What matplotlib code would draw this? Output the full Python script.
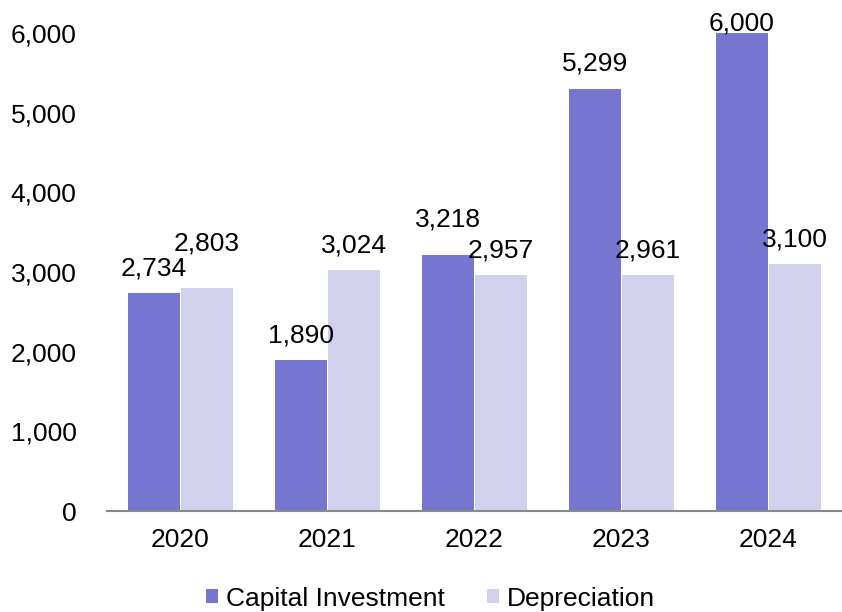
import numpy as np
import matplotlib.pyplot as plt

# data
years = ['2020', '2021', '2022', '2023', '2024']
capital = [2734, 1890, 3218, 5299, 6000]
depreciation = [2803, 3024, 2957, 2961, 3100]

# extra shift (points) for labels that would collide or run off the top
capital_lift = [0, 0, 7, 0, -11]
depr_lift = [14, 0, 0, 0, 0]

plt.rcParams['font.family'] = ['Liberation Sans', 'DejaVu Sans']

fig = plt.figure(figsize=(8.42, 6.12), dpi=100)
ax = fig.add_axes([0.127, 0.165, 0.873, 0.781])

x = np.arange(len(years))
w = 0.35
b1 = ax.bar(x - w / 2 - 0.005, capital, w, color='#7676D0', label='Capital Investment')
b2 = ax.bar(x + w / 2 + 0.005, depreciation, w, color='#D1D1EE', label='Depreciation')

for bars, vals, lifts in [(b1, capital, capital_lift), (b2, depreciation, depr_lift)]:
    for r, v, l in zip(bars, vals, lifts):
        ax.annotate(f'{v:,}', (r.get_x() + r.get_width() / 2, v),
                    xytext=(0, 13 + l), textcoords='offset points',
                    ha='center', va='baseline', fontsize=19, annotation_clip=False)

ax.set_xlim(-0.5, 4.5)
ax.set_ylim(0, 6000)
ax.set_yticks(range(0, 6001, 1000))
ax.set_yticklabels([f'{t:,}' for t in range(0, 6001, 1000)])
ax.set_xticks(x)
ax.set_xticklabels(years)
ax.tick_params(axis='both', length=0, labelsize=19)
ax.tick_params(axis='y', pad=22)
ax.tick_params(axis='x', pad=12)
for s in ['top', 'right', 'left']:
    ax.spines[s].set_visible(False)
ax.spines['bottom'].set_color('#898989')
ax.spines['bottom'].set_linewidth(1.5)

fig.legend(*ax.get_legend_handles_labels(), loc='center',
           bbox_to_anchor=(0.511, 0.022), ncol=2, frameon=False,
           fontsize=19, handlelength=0.45, handleheight=0.45, handletextpad=0.3,
           columnspacing=1.6)

fig.savefig('out.png', dpi=100)
